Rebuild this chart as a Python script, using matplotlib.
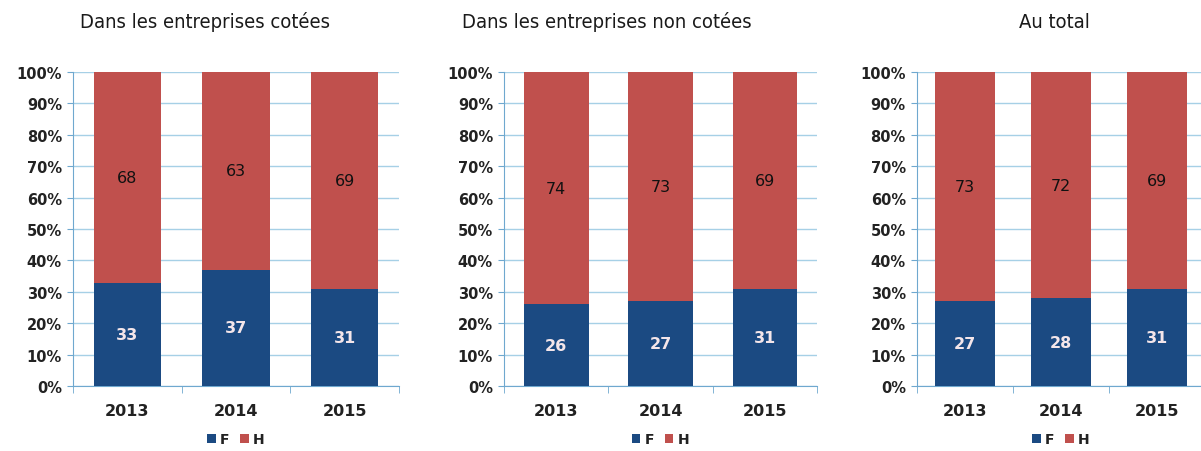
"""
Part des femmes (F) et des hommes (H), 2013-2015 : trois panneaux empilés à 100 %.
"""

import matplotlib.pyplot as plt
import numpy as np

years = ['2013', '2014', '2015']
titles = ['Dans les entreprises cotées', 'Dans les entreprises non cotées', 'Au total']
f_values = [[33, 37, 31], [26, 27, 31], [27, 28, 31]]
h_values = [[68, 63, 69], [74, 73, 69], [73, 72, 69]]

BLUE = '#1b4a82'
RED = '#c0504d'
GRID = '#a6d0e6'

fig = plt.figure(figsize=(12.01, 4.52), dpi=100)

# positions des axes (fraction de la figure)
boxes = [
    (0.0608, 0.1438, 0.2714, 0.6947),
    (0.4197, 0.1438, 0.2606, 0.6947),
    (0.7635, 0.1438, 0.2398, 0.6947),
]
# centres des titres (pixels)
title_x = [205, 607, 1054]

for k, box in enumerate(boxes):
    ax = fig.add_axes(box)
    f = np.array(f_values[k], dtype=float)
    h = np.array(h_values[k], dtype=float)
    total = f + h
    f_pct = f / total * 100
    h_pct = h / total * 100
    x = np.arange(len(years))

    ax.bar(x, f_pct, width=0.62, color=BLUE, zorder=3, label='F')
    ax.bar(x, h_pct, bottom=f_pct, width=0.62, color=RED, zorder=3, label='H')

    for i in range(len(years)):
        ax.text(x[i], f_pct[i] / 2, f'{f_values[k][i]:.0f}', ha='center', va='center',
                color='#f4e6ea', fontsize=11.5, fontweight='bold', zorder=4)
        ax.text(x[i], f_pct[i] + h_pct[i] / 2, f'{h_values[k][i]:.0f}', ha='center',
                va='center', color='#111111', fontsize=11.5, zorder=4)

    ax.set_xlim(-0.5, 2.5)
    ax.set_ylim(0, 100)
    ax.set_yticks(np.arange(0, 101, 10))
    ax.set_yticklabels([f'{v}%' for v in range(0, 101, 10)])
    ax.set_xticks(x)
    ax.set_xticklabels(years)
    ax.set_xticks([-0.5, 0.5, 1.5, 2.5], minor=True)

    ax.grid(axis='y', color=GRID, linewidth=1.0, zorder=0)
    for side in ['top', 'right']:
        ax.spines[side].set_visible(False)
    ax.spines['left'].set_color('#6fa8cf')
    ax.spines['bottom'].set_color('#6fa8cf')
    ax.tick_params(axis='y', length=4, color='#6fa8cf', labelsize=10.5, pad=4,
                   labelcolor='#222222')
    ax.tick_params(axis='x', which='major', length=0, labelsize=11.5, pad=12,
                   labelcolor='#222222')
    ax.tick_params(axis='x', which='minor', length=5, color='#6fa8cf')
    for lab in ax.get_yticklabels() + ax.get_xticklabels():
        lab.set_fontweight('bold')

    fig.text(title_x[k] / 1201, 1 - 22 / 452, titles[k], ha='center', va='center',
             fontsize=14.5, family='DejaVu Sans', stretch='condensed', color='#1a1a1a')

    leg = ax.legend(loc='center', bbox_to_anchor=(0.5, -0.17), ncol=2,
                    frameon=False, handlelength=0.6, handleheight=0.6,
                    handletextpad=0.3, columnspacing=0.8, fontsize=10)
    for t in leg.get_texts():
        t.set_fontweight('bold')
        t.set_color('#222222')

plt.savefig('out.png', dpi=100, facecolor='white')
